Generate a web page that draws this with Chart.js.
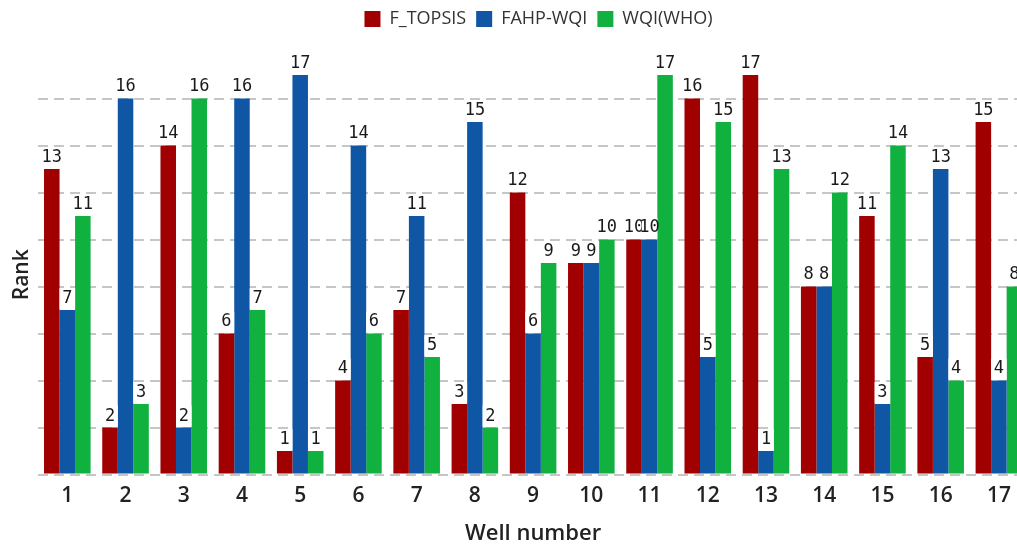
<!DOCTYPE html>
<html>
<head>
<meta charset="utf-8">
<script src="https://cdn.jsdelivr.net/npm/chart.js@4"></script>
<style>
  body { margin: 0; background: #fff; overflow: hidden; }
  .wrap { width: 1074px; height: 546px; position: relative; }
</style>
</head>
<body>
<div class="wrap"><canvas id="rankChart"></canvas></div>
<script>
// Well numbers and rank of each method
const wells = ['1', '2', '3', '4', '5', '6', '7', '8', '9', '10', '11', '12', '13', '14', '15', '16', '17'];
const fTopsis = [13, 2, 14, 6, 1, 4, 7, 3, 12, 9, 10, 16, 17, 8, 11, 5, 15];
const fahpWqi = [7, 16, 2, 16, 17, 14, 11, 15, 6, 9, 10, 5, 1, 8, 3, 13, 4];
const wqiWho = [11, 3, 16, 7, 1, 6, 5, 2, 9, 10, 17, 15, 13, 12, 14, 4, 8];

const colors = ['#a10000', '#0f57a5', '#10b13f'];
const sans = '"Open Sans", "Noto Sans", sans-serif';

// value labels on top of every bar, with a white box behind
const barLabels = {
  id: 'barLabels',
  beforeInit(chart) {
    // leave more room under the legend
    const fit = chart.legend.fit;
    chart.legend.fit = function () {
      fit.call(this);
      this.height = 75;
    };
  },
  afterLayout(chart) {
    // legend sits a bit right of the plot centre
    chart.legend.left += 20;
    chart.legend.right += 20;
  },
  afterDatasetsDraw(chart) {
    const ctx = chart.ctx;
    ctx.save();
    ctx.font = '17px "DejaVu Sans Mono", "Liberation Mono", monospace';
    ctx.textAlign = 'center';
    ctx.textBaseline = 'bottom';
    chart.data.datasets.forEach((ds, i) => {
      const meta = chart.getDatasetMeta(i);
      meta.data.forEach((bar, j) => {
        const w = bar.width;
        ctx.fillStyle = '#fff';
        ctx.fillRect(bar.x - w / 2, bar.y - 22, w, 21);
        ctx.fillStyle = '#1a1a1a';
        ctx.fillText(ds.data[j], bar.x, bar.y - 3);
      });
    });
    ctx.restore();
  }
};

const ctx = document.getElementById('rankChart').getContext('2d');
new Chart(ctx, {
  type: 'bar',
  data: {
    labels: wells,
    datasets: [
      { label: 'F_TOPSIS', data: fTopsis, backgroundColor: colors[0] },
      { label: 'FAHP-WQI', data: fahpWqi, backgroundColor: colors[1] },
      { label: 'WQI(WHO)', data: wqiWho, backgroundColor: colors[2] }
    ]
  },
  options: {
    responsive: true,
    maintainAspectRatio: false,
    animation: false,
    layout: { padding: { left: 9, right: 46, top: 0, bottom: 0 } },
    datasets: { bar: { categoryPercentage: 0.8, barPercentage: 1.0 } },
    plugins: {
      legend: {
        position: 'top',
        labels: {
          boxWidth: 16,
          boxHeight: 16,
          padding: 10,
          color: '#333',
          font: { family: sans, size: 18 }
        }
      },
      tooltip: { enabled: false }
    },
    scales: {
      x: {
        grid: { display: false, drawTicks: false },
        border: { display: false },
        ticks: {
          color: '#222',
          padding: 9,
          font: { family: sans, size: 21, weight: '600' }
        },
        title: {
          display: true,
          text: 'Well number',
          color: '#222',
          padding: { top: 4, bottom: 0 },
          font: { family: sans, size: 22, weight: '600', lineHeight: 1.1 }
        }
      },
      y: {
        min: 0,
        max: 17,
        grid: {
          color: (c) => (c.tick && c.tick.value % 2 === 0 ? '#c6c6c6' : 'transparent'),
          lineWidth: 2,
          drawTicks: false
        },
        border: { display: false, dash: [10, 6] },
        ticks: {
          display: false,
          stepSize: 2
        },
        title: {
          display: true,
          text: 'Rank',
          color: '#222',
          padding: { top: 0, bottom: 4 },
          font: { family: sans, size: 21, weight: '600' }
        }
      }
    }
  },
  plugins: [barLabels]
});
</script>
</body>
</html>
